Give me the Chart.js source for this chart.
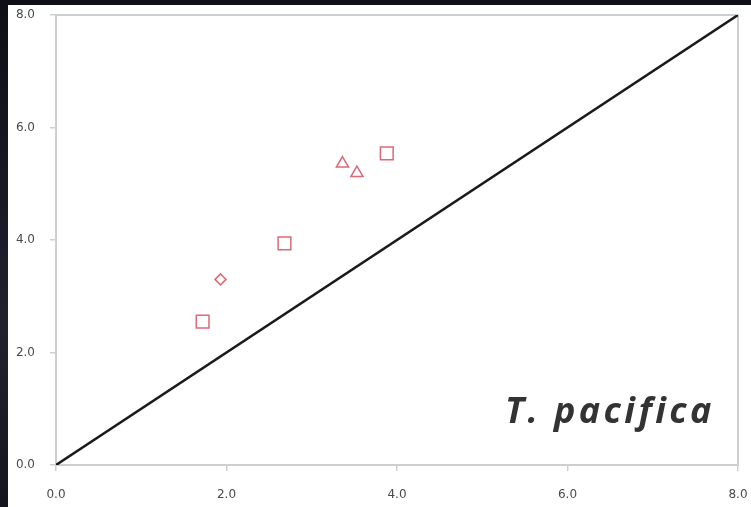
<!DOCTYPE html>
<html>
<head>
<meta charset="utf-8">
<script src="https://cdn.jsdelivr.net/npm/chart.js@4.4.1/dist/chart.umd.min.js"></script>
<style>
  html, body { margin: 0; padding: 0; width: 751px; height: 507px; overflow: hidden;
    background: linear-gradient(180deg, #0f0f17 0%, #1a1a28 45%, #22222f 65%, #15151f 100%); }
  #panel { position: absolute; left: 8px; top: 5px; width: 743px; height: 502px; background: #ffffff; }
  #chart { position: absolute; left: 0; top: 0; }
  #label { position: absolute; left: 505px; top: 385px; font-family: "Open Sans", sans-serif;
    font-weight: 700; font-style: italic; font-size: 36px; color: #333333; letter-spacing: 3.4px; white-space: nowrap; }
</style>
</head>
<body>
<div id="panel"></div>
<canvas id="chart" width="751" height="507"></canvas>
<div id="label">T. pacifica</div>
<script>
// Data
const squaresX = [1.72, 2.68, 3.88];
const squaresY = [2.55, 3.94, 5.54];
const diamondX = [1.93];
const diamondY = [3.30];
const trianglesX = [3.36, 3.53];
const trianglesY = [5.36, 5.19];
const lineX = [0, 8];
const lineY = [0, 8];
const tickValues = [0, 2, 4, 6, 8];

const pts = (xs, ys) => xs.map((x, i) => ({ x: x, y: ys[i] }));
const markerColor = 'rgb(224, 104, 118)';
const frameColor = '#cfcfcf';

new Chart(document.getElementById('chart'), {
  type: 'scatter',
  data: {
    datasets: [
      { label: '1:1', data: pts(lineX, lineY), showLine: true, borderColor: '#1a1a1a', borderWidth: 2.5,
        pointRadius: 0, fill: false, order: 5 },
      { label: 'squares', data: pts(squaresX, squaresY), pointStyle: 'rect', pointRadius: 9,
        borderColor: markerColor, backgroundColor: 'rgba(0,0,0,0)', pointBorderWidth: 1.5 },
      { label: 'diamond', data: pts(diamondX, diamondY), pointStyle: 'rectRot', pointRadius: 5.5,
        borderColor: markerColor, backgroundColor: 'rgba(0,0,0,0)', pointBorderWidth: 1.5 },
      { label: 'triangles', data: pts(trianglesX, trianglesY), pointStyle: 'triangle', pointRadius: 7,
        borderColor: markerColor, backgroundColor: 'rgba(0,0,0,0)', pointBorderWidth: 1.5 }
    ]
  },
  options: {
    responsive: false,
    animation: false,
    layout: { padding: { top: 15, right: 13, bottom: 0, left: 0 } },
    plugins: { legend: { display: false }, tooltip: { enabled: false } },
    scales: {
      x: {
        type: 'linear', min: 0, max: 8, position: 'bottom',
        afterBuildTicks: s => { s.ticks = tickValues.map(v => ({ value: v })); },
        afterFit: s => { s.height = 42; s.paddingLeft = 0; s.paddingRight = 0; },
        ticks: { callback: v => v.toFixed(1), color: '#4a4a4a', padding: 17,
          font: { family: 'DejaVu Sans', size: 12 }, maxRotation: 0 },
        grid: { drawOnChartArea: false, drawTicks: true, tickLength: 6, color: frameColor, lineWidth: 1.5 },
        border: { display: true, color: frameColor, width: 2 }
      },
      y: {
        type: 'linear', min: 0, max: 8, position: 'left',
        afterBuildTicks: s => { s.ticks = tickValues.map(v => ({ value: v })); },
        afterFit: s => { s.width = 56; s.paddingTop = 0; s.paddingBottom = 0; },
        ticks: { callback: v => v.toFixed(1), color: '#4a4a4a', padding: 15,
          font: { family: 'DejaVu Sans', size: 12 } },
        grid: { drawOnChartArea: false, drawTicks: true, tickLength: 6, color: frameColor, lineWidth: 1.5 },
        border: { display: true, color: frameColor, width: 2 }
      },
      x2: {
        type: 'linear', min: 0, max: 8, position: 'top',
        afterFit: s => { s.height = 0; s.paddingLeft = 0; s.paddingRight = 0; },
        ticks: { display: false },
        grid: { display: false },
        border: { display: true, color: frameColor, width: 2 }
      },
      y2: {
        type: 'linear', min: 0, max: 8, position: 'right',
        afterFit: s => { s.width = 0; s.paddingTop = 0; s.paddingBottom = 0; },
        ticks: { display: false },
        grid: { display: false },
        border: { display: true, color: frameColor, width: 2 }
      }
    }
  }
});
</script>
</body>
</html>
